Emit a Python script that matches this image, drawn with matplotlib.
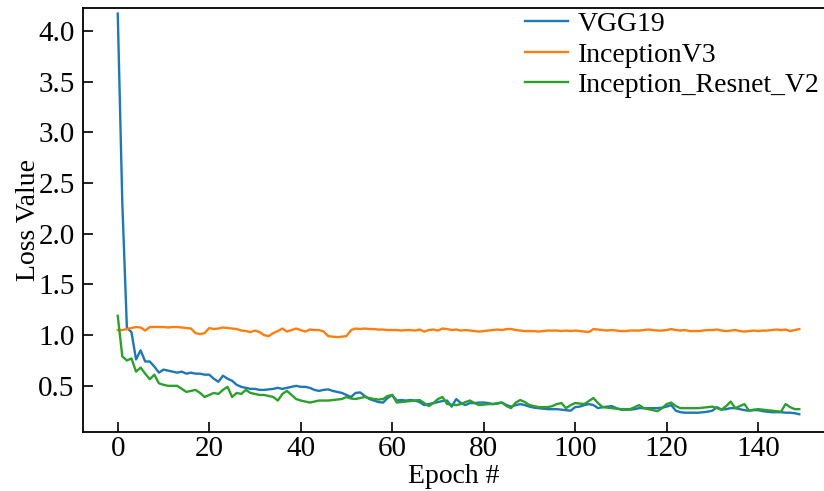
import numpy as np
import matplotlib.pyplot as plt

plt.rcParams['font.family'] = ['Liberation Serif', 'DejaVu Serif']
plt.rcParams['font.size'] = 20

# Training loss per epoch for each network
epochs = np.arange(150)

vgg19 = [
    4.17, 2.30, 1.07, 1.03, 0.76, 0.85, 0.74, 0.74, 0.69, 0.63,
    0.66, 0.65, 0.64, 0.63, 0.64, 0.62, 0.63, 0.62, 0.62, 0.61,
    0.61, 0.57, 0.54, 0.60, 0.57, 0.55, 0.51, 0.49, 0.48, 0.47,
    0.47, 0.46, 0.46, 0.465, 0.47, 0.48, 0.47, 0.48, 0.49, 0.50,
    0.49, 0.49, 0.48, 0.46, 0.45, 0.46, 0.465, 0.45, 0.44, 0.43,
    0.41, 0.39, 0.43, 0.435, 0.40, 0.37, 0.355, 0.34, 0.335, 0.38,
    0.41, 0.355, 0.36, 0.355, 0.36, 0.355, 0.34, 0.31, 0.32, 0.33,
    0.34, 0.35, 0.355, 0.295, 0.37, 0.33, 0.31, 0.33, 0.33, 0.335,
    0.335, 0.33, 0.32, 0.325, 0.335, 0.31, 0.295, 0.31, 0.32, 0.31,
    0.295, 0.285, 0.28, 0.275, 0.27, 0.27, 0.27, 0.265, 0.26, 0.255,
    0.29, 0.295, 0.31, 0.32, 0.31, 0.28, 0.29, 0.295, 0.30, 0.28,
    0.265, 0.265, 0.265, 0.27, 0.28, 0.28, 0.28, 0.28, 0.28, 0.285,
    0.295, 0.31, 0.255, 0.24, 0.235, 0.235, 0.235, 0.235, 0.24, 0.245,
    0.255, 0.29, 0.265, 0.27, 0.28, 0.28, 0.27, 0.26, 0.255, 0.26,
    0.26, 0.25, 0.245, 0.24, 0.24, 0.24, 0.235, 0.235, 0.23, 0.22,
]

inception_v3 = [
    1.05, 1.05, 1.06, 1.07, 1.08, 1.075, 1.045, 1.08, 1.08, 1.08,
    1.08, 1.075, 1.08, 1.08, 1.075, 1.07, 1.065, 1.02, 1.01, 1.02,
    1.07, 1.06, 1.065, 1.075, 1.07, 1.065, 1.06, 1.045, 1.04, 1.03,
    1.045, 1.03, 1.00, 0.99, 1.02, 1.04, 1.065, 1.035, 1.05, 1.065,
    1.05, 1.035, 1.055, 1.05, 1.05, 1.035, 0.99, 0.985, 0.98, 0.985,
    0.99, 1.05, 1.065, 1.06, 1.065, 1.06, 1.06, 1.055, 1.055, 1.05,
    1.05, 1.05, 1.045, 1.05, 1.05, 1.045, 1.055, 1.035, 1.05, 1.055,
    1.045, 1.065, 1.06, 1.05, 1.055, 1.045, 1.05, 1.045, 1.04, 1.035,
    1.04, 1.045, 1.05, 1.055, 1.05, 1.06, 1.06, 1.05, 1.045, 1.04,
    1.04, 1.04, 1.035, 1.04, 1.045, 1.045, 1.045, 1.04, 1.045, 1.04,
    1.045, 1.04, 1.035, 1.03, 1.06, 1.055, 1.05, 1.045, 1.05, 1.045,
    1.04, 1.04, 1.045, 1.045, 1.045, 1.05, 1.055, 1.05, 1.045, 1.045,
    1.05, 1.06, 1.05, 1.045, 1.05, 1.04, 1.04, 1.04, 1.045, 1.05,
    1.05, 1.055, 1.045, 1.04, 1.045, 1.05, 1.04, 1.035, 1.04, 1.045,
    1.04, 1.045, 1.045, 1.05, 1.055, 1.05, 1.055, 1.04, 1.05, 1.06,
]

inception_resnet_v2 = [
    1.19, 0.79, 0.75, 0.77, 0.64, 0.68, 0.62, 0.565, 0.61, 0.525,
    0.51, 0.50, 0.50, 0.50, 0.47, 0.44, 0.45, 0.46, 0.43, 0.39,
    0.41, 0.43, 0.42, 0.46, 0.49, 0.39, 0.43, 0.42, 0.46, 0.43,
    0.42, 0.41, 0.41, 0.40, 0.39, 0.355, 0.42, 0.45, 0.41, 0.37,
    0.355, 0.345, 0.335, 0.345, 0.355, 0.355, 0.355, 0.36, 0.365, 0.37,
    0.39, 0.375, 0.37, 0.38, 0.39, 0.38, 0.37, 0.365, 0.37, 0.40,
    0.41, 0.335, 0.34, 0.345, 0.35, 0.355, 0.36, 0.33, 0.30, 0.33,
    0.37, 0.39, 0.32, 0.315, 0.31, 0.32, 0.34, 0.355, 0.33, 0.31,
    0.315, 0.32, 0.32, 0.33, 0.335, 0.30, 0.28, 0.335, 0.36, 0.34,
    0.31, 0.30, 0.29, 0.29, 0.29, 0.30, 0.32, 0.33, 0.28, 0.31,
    0.33, 0.325, 0.32, 0.35, 0.38, 0.33, 0.29, 0.285, 0.28, 0.275,
    0.27, 0.27, 0.27, 0.29, 0.31, 0.28, 0.27, 0.26, 0.25, 0.28,
    0.32, 0.335, 0.30, 0.28, 0.28, 0.28, 0.28, 0.28, 0.285, 0.29,
    0.295, 0.28, 0.265, 0.30, 0.345, 0.28, 0.30, 0.32, 0.255, 0.265,
    0.27, 0.265, 0.26, 0.255, 0.25, 0.245, 0.32, 0.29, 0.27, 0.27,
]

fig = plt.figure(figsize=(8.24, 4.91), dpi=100)
ax = fig.add_axes([0.1007, 0.1202, 0.8993, 0.8645])

ax.plot(epochs, vgg19, color='#1f77b4', linewidth=1.7, label='VGG19')
ax.plot(epochs, inception_v3, color='#ff7f0e', linewidth=1.7, label='InceptionV3')
ax.plot(epochs, inception_resnet_v2, color='#2ca02c', linewidth=1.7, label='Inception_Resnet_V2')

ax.set_xlim(-7.6, 154.4)
ax.set_ylim(0.045, 4.23)
ax.set_xticks(np.arange(0, 141, 20))
ax.set_yticks(np.arange(0.5, 4.01, 0.5))
ax.yaxis.set_major_formatter(plt.FormatStrFormatter('%.1f'))

ax.tick_params(direction='in', length=7, width=1.2)
ax.tick_params(axis='x', labelsize=21, pad=3)
ax.tick_params(axis='y', labelsize=21, pad=6)
ax.spines['right'].set_visible(False)
for s in ['left', 'bottom', 'top']:
    ax.spines[s].set_linewidth(1.3)

ax.set_xlabel('Epoch #', labelpad=1)
ax.set_ylabel('Loss Value', labelpad=-2)

ax.legend(loc='upper right', frameon=False, handlelength=1.55,
          handletextpad=0.35, labelspacing=0.18, borderaxespad=0.1,
          borderpad=0.05)

fig.savefig('out.png', dpi=100)
